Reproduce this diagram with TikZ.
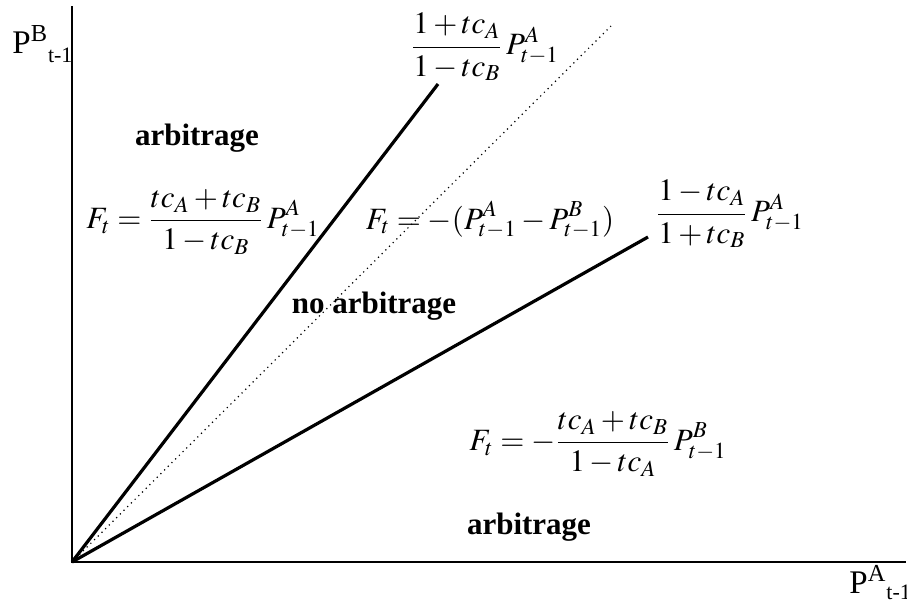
\documentclass[tikz,border=0pt]{standalone}
\usepackage{mathptmx}
\usepackage{fontspec}
\setmainfont{Liberation Serif}
\begin{document}
\begin{tikzpicture}[x=0.5pt,y=-0.5pt,
    lbl/.style={inner sep=0pt,font=\fontsize{15.5}{18}\selectfont},
    axlbl/.style={inner sep=0pt,anchor=base west,font=\fontsize{16.5}{19}\selectfont},
    bnd/.style={line width=1.6pt}]
  \useasboundingbox (0,0) rectangle (907,602);

  % Draw axes
  \coordinate (O) at (72,562);
  \coordinate (ytop) at (72,6);
  \coordinate (xend) at (906,562);
  \draw[line width=1pt] (ytop) -- (O) -- (xend);

  % Axis labels
  \node[axlbl] (ylab) at (12,53) {P\textsuperscript{B}\raisebox{-0.3em}{\fontsize{11}{13}\selectfont t-1}};
  \node[axlbl] (xlab) at (849,593) {P\textsuperscript{A}\raisebox{-0.2em}{\fontsize{11}{13}\selectfont t-1}};

  % Draw bounds
  \coordinate (upper) at (438,84);
  \coordinate (mid) at (611,26);
  \coordinate (lower) at (648,237);
  \draw[bnd] (O) -- (upper);
  \draw[dotted,line width=0.6pt] (O) -- (mid);
  \draw[bnd] (O) -- (lower);

  % Bound labels
  \node[lbl] (upperlab) at (485,47) {$\displaystyle\frac{1+tc_A}{1-tc_B}\,P^A_{t-1}$};
  \node[lbl] (lowerlab) at (730,214) {$\displaystyle\frac{1-tc_A}{1+tc_B}\,P^A_{t-1}$};

  % Region formulas
  \node[lbl] (fup) at (203,222) {$\displaystyle F_t=\frac{tc_A+tc_B}{1-tc_B}\,P^A_{t-1}$};
  \node[lbl] (fmid) at (490,220) {$\displaystyle F_t=-(P^A_{t-1}-P^B_{t-1})$};
  \node[lbl] (flow) at (598,444) {$\displaystyle F_t=-\frac{tc_A+tc_B}{1-tc_A}\,P^B_{t-1}$};

  % Region names
  \node[lbl] (arbup) at (197,138) {\textbf{arbitrage}};
  \node[lbl] (noarb) at (374,306) {\textbf{no arbitrage}};
  \node[lbl] (arblow) at (529,527) {\textbf{arbitrage}};
\end{tikzpicture}
\end{document}
